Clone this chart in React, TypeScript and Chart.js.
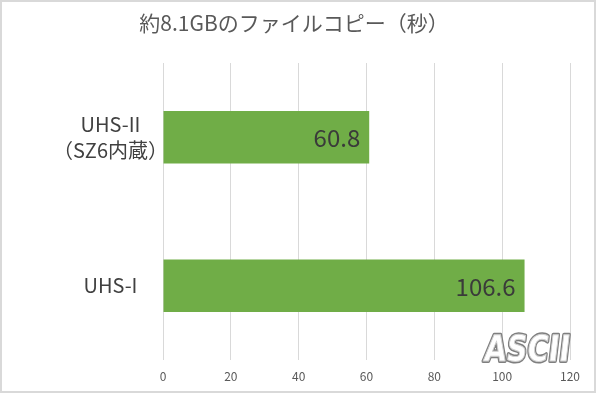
import React, { useEffect, useRef } from "react";
import { Chart, registerables } from "chart.js";

Chart.register(...registerables);

const titleText = "約8.1GBのファイルコピー（秒）";
const categories: (string | string[])[] = [["UHS-II", "（SZ6内蔵）"], "UHS-I"];
const copySeconds = [60.8, 106.6];
const axisMin = 0;
const axisMax = 120;
const axisStep = 20;

const FONT = "'Noto Sans CJK JP', 'Noto Sans', sans-serif";

const decorPlugin = {
  id: "decor",
  beforeDraw(chart: any) {
    const { ctx, width, height } = chart;
    ctx.save();
    ctx.fillStyle = "#ffffff";
    ctx.fillRect(0, 0, width, height);
    ctx.strokeStyle = "#d9d9d9";
    ctx.lineWidth = 2;
    ctx.strokeRect(1, 1, width - 2, height - 2);
    ctx.fillStyle = "#595959";
    ctx.font = `21px ${FONT}`;
    ctx.textAlign = "center";
    ctx.textBaseline = "middle";
    ctx.fillText(titleText, 294, 23);
    ctx.restore();
  },
  afterDatasetsDraw(chart: any) {
    const { ctx } = chart;
    const meta = chart.getDatasetMeta(0);
    ctx.save();
    ctx.fillStyle = "#3a3a3a";
    ctx.font = `24px ${FONT}`;
    ctx.textAlign = "right";
    ctx.textBaseline = "middle";
    meta.data.forEach((bar: any, i: number) => {
      const v = chart.data.datasets[0].data[i];
      ctx.fillText(String(v), bar.x - 9, bar.y + 1);
    });
    ctx.restore();
  },
  afterDraw(chart: any) {
    const { ctx } = chart;
    ctx.save();
    ctx.translate(527, 352);
    ctx.transform(0.8, 0, -0.12, 1, 0, 0);
    ctx.font = `bold 36px 'DejaVu Sans', sans-serif`;
    ctx.textAlign = "center";
    ctx.textBaseline = "middle";
    ctx.lineJoin = "round";
    ctx.strokeStyle = "#7f7f7f";
    ctx.lineWidth = 4;
    ctx.strokeText("ASCII", 0, 0);
    ctx.fillStyle = "#ffffff";
    ctx.fillText("ASCII", 0, 0);
    ctx.strokeStyle = "#d0d0d0";
    ctx.lineWidth = 1;
    ctx.strokeText("ASCII", 0, 0);
    ctx.restore();
  },
};

export default function App() {
  const ref = useRef<HTMLCanvasElement | null>(null);
  useEffect(() => {
    if (!ref.current) return;
    const chart = new Chart(ref.current, {
      type: "bar",
      data: {
        labels: categories,
        datasets: [
          {
            data: copySeconds,
            backgroundColor: "#70ad47",
            borderWidth: 0,
            barPercentage: 0.355,
            categoryPercentage: 1,
          },
        ],
      },
      options: {
        indexAxis: "y",
        responsive: false,
        animation: false,
        layout: { padding: { top: 63, right: 26, left: 0, bottom: 0 } },
        plugins: {
          legend: { display: false },
          title: { display: false },
          tooltip: { enabled: false },
        },
        scales: {
          x: {
            min: axisMin,
            max: axisMax,
            ticks: {
              stepSize: axisStep,
              color: "#595959",
              font: { family: FONT, size: 12 },
              padding: 9,
              maxRotation: 0,
            },
            grid: { color: "#d9d9d9", lineWidth: 1, drawTicks: false },
            border: { display: false },
            afterFit(scale: any) {
              scale.height = 33;
            },
          },
          y: {
            ticks: {
              color: "#404040",
              font: { family: FONT, size: 20, lineHeight: 1.3 },
              crossAlign: "center",
              padding: -5,
            },
            grid: { display: false, drawTicks: false },
            border: { display: false },
            afterFit(scale: any) {
              scale.width = 163;
            },
          },
        },
      },
      plugins: [decorPlugin],
    });
    return () => chart.destroy();
  }, []);
  return (
    <div style={{ position: "fixed", left: 0, top: 0, width: 596, height: 393 }}>
      <canvas ref={ref} width={596} height={393} style={{ display: "block" }} />
    </div>
  );
}
